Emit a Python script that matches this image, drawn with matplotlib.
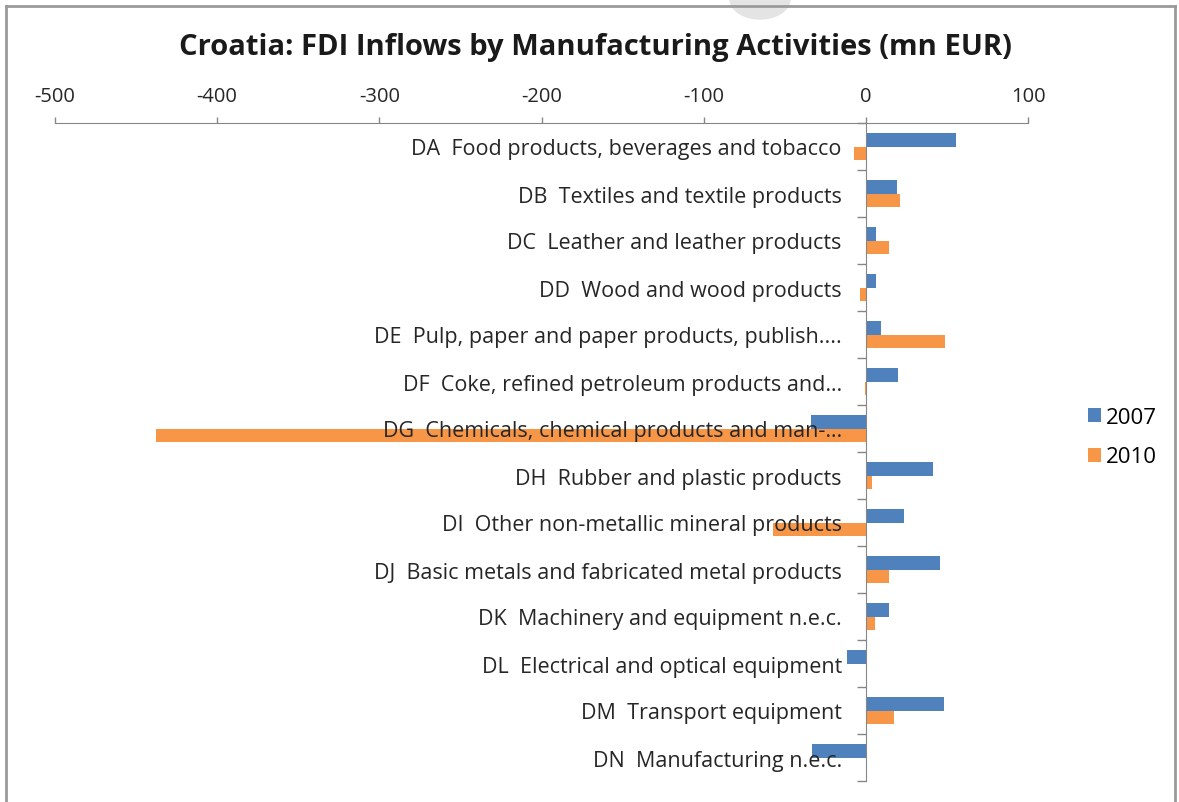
import numpy as np
import matplotlib
matplotlib.use("Agg")
import matplotlib.pyplot as plt
from matplotlib.lines import Line2D
from matplotlib.patches import Ellipse

# data (mn EUR)
categories = [
    "DA  Food products, beverages and tobacco",
    "DB  Textiles and textile products",
    "DC  Leather and leather products",
    "DD  Wood and wood products",
    "DE  Pulp, paper and paper products, publish....",
    "DF  Coke, refined petroleum products and…",
    "DG  Chemicals, chemical products and man-…",
    "DH  Rubber and plastic products",
    "DI  Other non-metallic mineral products",
    "DJ  Basic metals and fabricated metal products",
    "DK  Machinery and equipment n.e.c.",
    "DL  Electrical and optical equipment",
    "DM  Transport equipment",
    "DN  Manufacturing n.e.c.",
]
values_2007 = [55.8, 19.4, 6.0, 6.0, 9.5, 19.8, -33.7, 41.4, 23.5, 45.7, 14.4, -11.5, 47.9, -33.0]
values_2010 = [-7.5, 20.8, 14.0, -3.3, 48.8, -0.8, -437.7, 3.5, -57.0, 14.4, 5.5, 0.0, 17.3, 0.0]
x_ticks = [-500, -400, -300, -200, -100, 0, 100]

blue = "#4F81BD"
orange = "#F79646"
axis_gray = "#868686"
font = "Open Sans"
px = 72 / 100  # points per pixel

W, H = 1179, 803
fig = plt.figure(figsize=(W / 100, H / 100), dpi=100)
ax = fig.add_axes([55 / W, 1 - 782 / H, (1028 - 55) / W, (782 - 124) / H])

y = np.arange(len(categories))
bh = 0.28
ax.barh(y - bh / 2, values_2007, height=bh, color=blue, label="2007")
ax.barh(y + bh / 2, values_2010, height=bh, color=orange, label="2010")

ax.set_xlim(-500, 100)
ax.set_ylim(len(categories) - 0.5, -0.5)

# x axis on top
ax.xaxis.set_ticks_position("top")
ax.set_xticks(x_ticks)
ax.set_xticklabels([str(t) for t in x_ticks], fontfamily=font, fontsize=14.5, color="#262626")
ax.tick_params(axis="x", direction="out", length=6 * px, width=1, color=axis_gray, pad=11 * px)

# vertical axis crossing at zero
ax.spines["left"].set_position(("data", 0))
ax.spines["left"].set_color(axis_gray)
ax.spines["top"].set_color(axis_gray)
ax.spines["right"].set_visible(False)
ax.spines["bottom"].set_visible(False)

ax.set_yticks(y)
ax.set_yticklabels(categories, fontfamily=font, fontsize=15.5, color="#262626")
ax.tick_params(axis="y", which="major", length=0, pad=24 * px)
ax.set_yticks(np.arange(len(categories) + 1) - 0.5, minor=True)
ax.tick_params(axis="y", which="minor", direction="out", length=9 * px, width=1, color=axis_gray)

fig.text(595 / W, 1 - 47 / H, "Croatia: FDI Inflows by Manufacturing Activities (mn EUR)",
         ha="center", va="center", fontfamily=font, fontweight="bold", fontsize=21, color="#1a1a1a")

leg = fig.legend(loc="center left", bbox_to_anchor=(1068 / W, 1 - 438 / H), frameon=False,
                 prop={"family": font, "size": 16}, handlelength=0.6, handleheight=0.6,
                 handletextpad=0.2, labelspacing=0.85)

# outer chart border and page artefact
fig.add_artist(Line2D([6 / W, 6 / W], [0, 1 - 7 / H], color="#9a9a9a", lw=2, transform=fig.transFigure))
fig.add_artist(Line2D([6 / W, 1175 / W], [1 - 7 / H, 1 - 7 / H], color="#9a9a9a", lw=2, transform=fig.transFigure))
fig.add_artist(Line2D([1175 / W, 1175 / W], [0, 1 - 7 / H], color="#9a9a9a", lw=2, transform=fig.transFigure))
fig.add_artist(Ellipse((760 / W, 1.0), 60 / W, 40 / H, color="#e4e4e4", transform=fig.transFigure, zorder=-1))

fig.savefig("out.png", dpi=100)
